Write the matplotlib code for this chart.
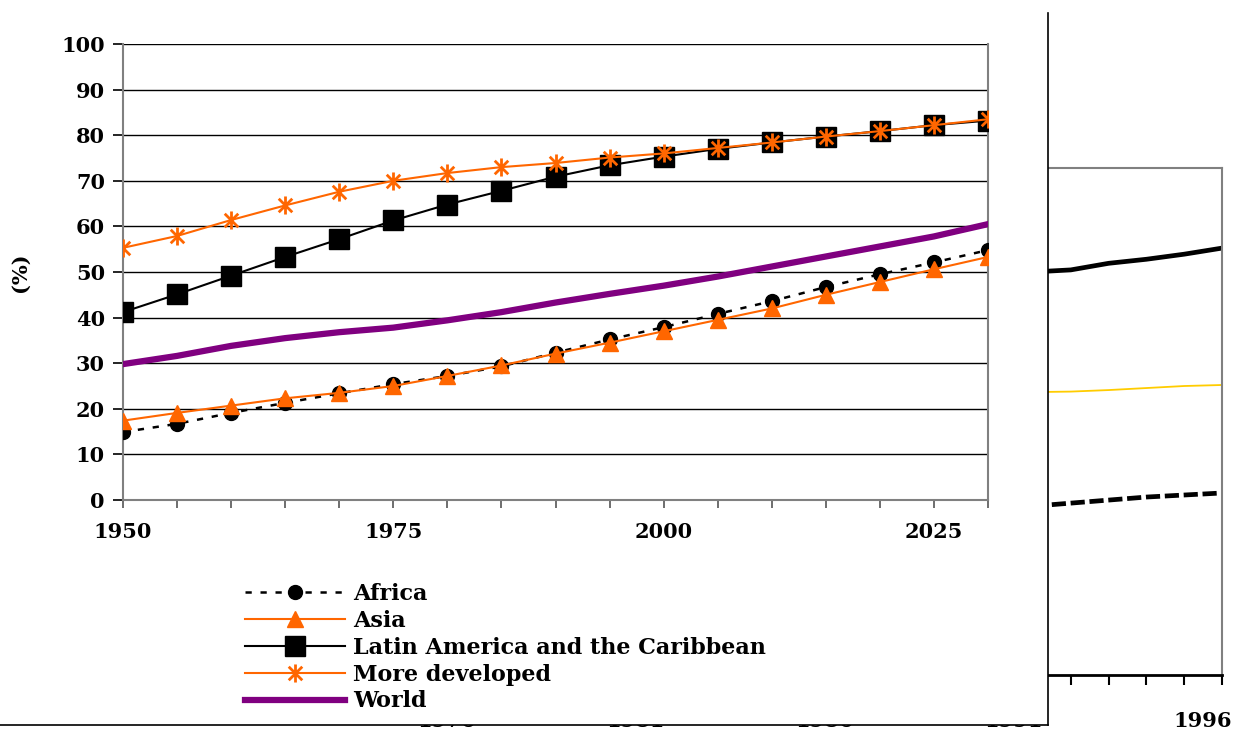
import numpy as np
import matplotlib
matplotlib.use("Agg")
import matplotlib.pyplot as plt
from matplotlib.path import Path
from matplotlib.lines import Line2D
from matplotlib.patches import Rectangle

# datos del grafico principal (porcentaje urbano)
anios = [1950, 1955, 1960, 1965, 1970, 1975, 1980, 1985, 1990, 1995,
         2000, 2005, 2010, 2015, 2020, 2025, 2030]
africa = [14.9, 16.7, 19.1, 21.3, 23.4, 25.4, 27.2, 29.3, 32.3, 35.2,
          37.9, 40.8, 43.6, 46.7, 49.5, 52.1, 54.8]
asia = [17.4, 19.1, 20.7, 22.3, 23.5, 25.0, 27.2, 29.5, 32.1, 34.5,
        37.0, 39.5, 42.0, 45.0, 47.8, 50.6, 53.3]
latam = [41.2, 45.1, 49.2, 53.3, 57.2, 61.3, 64.8, 67.8, 70.9, 73.4,
         75.3, 77.0, 78.4, 79.7, 80.9, 82.2, 83.2]
desarrollados = [55.3, 57.9, 61.4, 64.6, 67.6, 70.0, 71.7, 73.0, 73.9, 75.1,
                 76.0, 77.2, 78.4, 79.7, 80.9, 82.2, 83.5]
mundo = [29.8, 31.6, 33.8, 35.5, 36.8, 37.8, 39.4, 41.2, 43.3, 45.2,
         47.0, 49.0, 51.2, 53.4, 55.6, 57.8, 60.5]

# grafico de fondo (solo se ve un pedazo a la derecha)
anios_fondo = [1991, 1992, 1993, 1994, 1995, 1996]
fondo_negro = [79.5, 79.9, 81.2, 82.0, 83.0, 84.2]
fondo_amarillo = [55.8, 55.9, 56.2, 56.6, 57.0, 57.2]
fondo_rayas = [33.3, 33.9, 34.5, 35.1, 35.5, 35.9]
etiquetas_fondo = [1976, 1981, 1986, 1991, 1996]

fuente = "DejaVu Serif"
tam = 15
naranja = "#FF6600"
W, H = 1239, 734

fig = plt.figure(figsize=(W / 100, H / 100), dpi=100)

def caja(x0, y0, x1, y1):
    # pixeles -> coordenadas de figura
    return [x0 / W, 1 - y1 / H, (x1 - x0) / W, (y1 - y0) / H]

# ---- grafico de fondo ----
axf = fig.add_axes(caja(69, 168, 1222, 675), zorder=0)
xs = np.array(anios_fondo) + 0.5
axf.plot(xs, fondo_negro, color="black", lw=3.4, solid_capstyle="round")
axf.plot(xs, fondo_amarillo, color="#FFCC00", lw=1.3)
axf.plot(xs, fondo_rayas, color="black", lw=3.4, ls=(0, (3, 1)))
axf.set_xlim(1966, 1996.5)
axf.set_ylim(0, 100)
axf.set_yticks([])
axf.set_xticks(np.arange(1966.5, 1997, 1))
axf.set_xticklabels([])
axf.tick_params(axis="x", which="major", length=7, width=1.5, color="black")
axf.set_xticks(etiquetas_fondo, minor=True)
axf.set_xticklabels([str(e) for e in etiquetas_fondo], minor=True,
                    fontfamily=fuente, fontweight="bold", fontsize=tam)
axf.tick_params(axis="x", which="minor", length=0, pad=26)
for s in ["top", "right"]:
    axf.spines[s].set_color("#808080")
    axf.spines[s].set_linewidth(1.5)
axf.spines["bottom"].set_linewidth(2)
axf.spines["left"].set_visible(False)

# ---- area blanca del grafico principal ----
fig.patches.append(Rectangle((-0.01, 1 - 725 / H), 1048 / W + 0.01, (725 - 13) / H,
                             transform=fig.transFigure, facecolor="white",
                             edgecolor="none", zorder=1))
fig.lines.append(Line2D([1048 / W, 1048 / W], [1 - 13 / H, 1 - 725 / H],
                        transform=fig.transFigure, color="black", lw=1.2, zorder=1.5))
fig.lines.append(Line2D([0, 1048 / W], [1 - 725 / H, 1 - 725 / H],
                        transform=fig.transFigure, color="black", lw=1.2, zorder=1.5))

# ---- grafico principal ----
ax = fig.add_axes(caja(123, 44, 988, 500), zorder=2)
ax.set_facecolor("white")

estrella = Path([(0, -1), (0, 1), (-0.75, -0.75), (0.75, 0.75), (-0.75, 0.75), (0.75, -0.75)],
                [Path.MOVETO, Path.LINETO, Path.MOVETO, Path.LINETO, Path.MOVETO, Path.LINETO])

ax.plot(anios, mundo, color="#800080", lw=4.5, label="World", zorder=3)
ax.plot(anios, latam, color="black", lw=1.5, marker="s", ms=14,
        label="Latin America and the Caribbean", zorder=4)
ax.plot(anios, desarrollados, color=naranja, lw=1.5, marker=estrella, ms=13,
        mew=2, mec=naranja, label="More developed", zorder=5)
ax.plot(anios, africa, color="black", lw=1.8, ls=(0, (2.5, 3.5)), marker="o", ms=10,
        label="Africa", zorder=4)
ax.plot(anios, asia, color=naranja, lw=1.5, marker="^", ms=12,
        label="Asia", zorder=5)

ax.set_xlim(1950, 2030)
ax.set_ylim(0, 100)
ax.set_yticks(range(0, 101, 10))
ax.set_xticks(range(1950, 2031, 5))
ax.set_xticklabels([str(a) if a in (1950, 1975, 2000, 2025) else "" for a in range(1950, 2031, 5)])
ax.grid(axis="y", color="black", lw=1)
ax.set_axisbelow(True)
ax.tick_params(axis="y", length=7, width=1.2, pad=6, colors="black")
ax.tick_params(axis="x", length=6, width=1.2, pad=10, color="#555555")
for lab in ax.get_xticklabels() + ax.get_yticklabels():
    lab.set_fontfamily(fuente)
    lab.set_fontweight("bold")
    lab.set_fontsize(tam)
for s in ["top", "right", "left", "bottom"]:
    ax.spines[s].set_color("#808080")
    ax.spines[s].set_linewidth(1.5)
ax.spines["top"].set_visible(False)
ax.set_ylabel("(%)", fontfamily=fuente, fontweight="bold", fontsize=tam)
ax.yaxis.set_label_coords((30 - 123) / 865, 0.5)

handles, labels = ax.get_legend_handles_labels()
orden = ["Africa", "Asia", "Latin America and the Caribbean", "More developed", "World"]
hs = [handles[labels.index(o)] for o in orden]
leg = ax.legend(hs, orden, loc="upper left", bbox_to_anchor=(236 / W, 1 - 574 / H),
                bbox_transform=fig.transFigure, frameon=False, handlelength=4.5,
                handletextpad=0.35, labelspacing=0.22, borderaxespad=0,
                prop={"family": fuente, "weight": "bold", "size": 16})

plt.savefig("out.png", dpi=100)
